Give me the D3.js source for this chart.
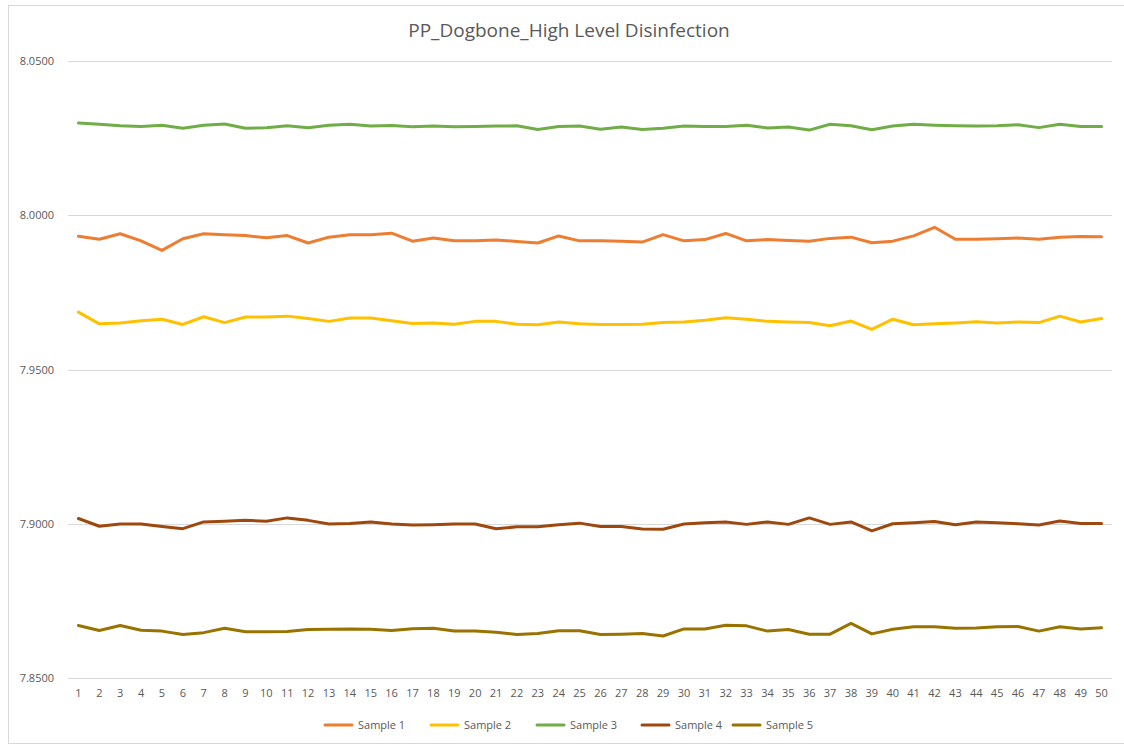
<!DOCTYPE html>
<head>
  <meta charset="utf-8">
  <script src="https://d3js.org/d3.v7.min.js"></script>
  <style>
    body {
      margin: 0;
      background: #fff;
      font-family: "Open Sans", Calibri, sans-serif;
    }
    .grid line {
      stroke: #d9d9d9;
      stroke-width: 1;
    }
    .lbl {
      fill: #595959;
      font-size: 11px;
    }
  </style>
</head>

<body>
  <div id="chart"></div>

  <script>
    var title = "PP_Dogbone_High Level Disinfection";
    var points = d3.range(1, 51);
    var yTicks = [7.85, 7.90, 7.95, 8.00, 8.05];

    var sample1 = [7.9932, 7.9922, 7.9940, 7.9917, 7.9886, 7.9924, 7.9940, 7.9937, 7.9934, 7.9927,
                   7.9934, 7.9910, 7.9929, 7.9937, 7.9937, 7.9942, 7.9916, 7.9926, 7.9917, 7.9917,
                   7.9920, 7.9915, 7.9910, 7.9933, 7.9917, 7.9917, 7.9916, 7.9913, 7.9937, 7.9917,
                   7.9921, 7.9941, 7.9917, 7.9921, 7.9918, 7.9916, 7.9925, 7.9929, 7.9911, 7.9916,
                   7.9933, 7.9961, 7.9922, 7.9922, 7.9924, 7.9926, 7.9922, 7.9929, 7.9931, 7.9930];
    var sample2 = [7.9686, 7.9648, 7.9651, 7.9658, 7.9663, 7.9646, 7.9671, 7.9652, 7.9670, 7.9670,
                   7.9673, 7.9665, 7.9656, 7.9667, 7.9667, 7.9658, 7.9649, 7.9651, 7.9647, 7.9656,
                   7.9656, 7.9647, 7.9645, 7.9654, 7.9648, 7.9646, 7.9646, 7.9647, 7.9652, 7.9654,
                   7.9660, 7.9668, 7.9663, 7.9656, 7.9654, 7.9652, 7.9642, 7.9657, 7.9630, 7.9663,
                   7.9645, 7.9648, 7.9651, 7.9655, 7.9651, 7.9654, 7.9652, 7.9673, 7.9654, 7.9665];
    var sample3 = [8.0299, 8.0295, 8.0290, 8.0288, 8.0292, 8.0282, 8.0292, 8.0296, 8.0282, 8.0284,
                   8.0290, 8.0284, 8.0292, 8.0295, 8.0289, 8.0291, 8.0287, 8.0289, 8.0287, 8.0288,
                   8.0289, 8.0290, 8.0278, 8.0288, 8.0289, 8.0279, 8.0286, 8.0278, 8.0282, 8.0289,
                   8.0288, 8.0288, 8.0292, 8.0283, 8.0286, 8.0276, 8.0295, 8.0290, 8.0277, 8.0289,
                   8.0295, 8.0292, 8.0290, 8.0289, 8.0290, 8.0293, 8.0284, 8.0295, 8.0288, 8.0288];
    var sample4 = [7.9017, 7.8992, 7.8999, 7.8999, 7.8991, 7.8984, 7.9006, 7.9008, 7.9011, 7.9008,
                   7.9019, 7.9011, 7.8999, 7.9001, 7.9006, 7.8999, 7.8996, 7.8997, 7.8999, 7.8999,
                   7.8984, 7.8990, 7.8990, 7.8997, 7.9002, 7.8991, 7.8991, 7.8983, 7.8982, 7.8999,
                   7.9003, 7.9006, 7.8998, 7.9006, 7.8998, 7.9019, 7.8998, 7.9006, 7.8977, 7.9000,
                   7.9003, 7.9007, 7.8997, 7.9006, 7.9003, 7.9000, 7.8996, 7.9009, 7.9001, 7.9001];
    var sample5 = [7.8670, 7.8654, 7.8670, 7.8655, 7.8652, 7.8641, 7.8647, 7.8661, 7.8650, 7.8650,
                   7.8651, 7.8657, 7.8658, 7.8659, 7.8658, 7.8654, 7.8660, 7.8661, 7.8652, 7.8652,
                   7.8648, 7.8641, 7.8644, 7.8653, 7.8653, 7.8641, 7.8642, 7.8644, 7.8636, 7.8659,
                   7.8659, 7.8671, 7.8669, 7.8652, 7.8657, 7.8642, 7.8642, 7.8677, 7.8643, 7.8658,
                   7.8666, 7.8666, 7.8661, 7.8662, 7.8666, 7.8667, 7.8652, 7.8666, 7.8659, 7.8663];

    var seriesNames = ["Sample 1", "Sample 2", "Sample 3", "Sample 4", "Sample 5"];
    var seriesColors = ["#ed7d31", "#ffc000", "#70ad47", "#9e480e", "#997300"];
    var series = [sample1, sample2, sample3, sample4, sample5];

    var width = 1124, height = 747;

    var svg = d3.select("#chart").append("svg")
      .attr("width", width)
      .attr("height", height);

    // chart frame
    svg.append("rect")
      .attr("x", 8.5).attr("y", 5.5)
      .attr("width", width - 8).attr("height", height - 9)
      .attr("fill", "#fff")
      .attr("stroke", "#d9d9d9");

    svg.append("text")
      .attr("x", 569).attr("y", 37)
      .attr("text-anchor", "middle")
      .attr("fill", "#595959")
      .style("font-size", "19px")
      .text(title);

    var x = d3.scaleBand()
      .domain(points)
      .range([68, 1112]);

    var y = d3.scaleLinear()
      .domain([7.85, 8.05])
      .range([678, 61]);

    var grid = svg.append("g").attr("class", "grid");
    grid.selectAll("line")
        .data(yTicks)
      .enter().append("line")
        .attr("x1", 68).attr("x2", 1112)
        .attr("y1", function(d) { return Math.round(y(d)) + 0.5; })
        .attr("y2", function(d) { return Math.round(y(d)) + 0.5; });

    svg.append("g").selectAll("text")
        .data(yTicks)
      .enter().append("text")
        .attr("class", "lbl")
        .attr("x", 54)
        .attr("y", function(d) { return y(d) + 4; })
        .attr("text-anchor", "end")
        .text(function(d) { return d3.format(".4f")(d); });

    svg.append("g").selectAll("text")
        .data(points)
      .enter().append("text")
        .attr("class", "lbl")
        .attr("x", function(d) { return x(d) + x.bandwidth() / 2; })
        .attr("y", 697)
        .attr("text-anchor", "middle")
        .text(function(d) { return d; });

    var line = d3.line()
      .x(function(d, i) { return x(points[i]) + x.bandwidth() / 2; })
      .y(function(d) { return y(d); });

    svg.append("g").selectAll("path")
        .data(series)
      .enter().append("path")
        .attr("d", line)
        .attr("fill", "none")
        .attr("stroke", function(d, i) { return seriesColors[i]; })
        .attr("stroke-width", 3)
        .attr("stroke-linejoin", "round")
        .attr("stroke-linecap", "round");

    // legend
    var legendX = [325, 431, 537, 642, 733];
    var legend = svg.append("g").selectAll("g")
        .data(seriesNames)
      .enter().append("g")
        .attr("transform", function(d, i) { return "translate(" + legendX[i] + ",725)"; });

    legend.append("line")
      .attr("x1", 0).attr("x2", 27)
      .attr("stroke", function(d, i) { return seriesColors[i]; })
      .attr("stroke-width", 3)
      .attr("stroke-linecap", "round");

    legend.append("text")
      .attr("class", "lbl")
      .attr("x", 33).attr("y", 4)
      .text(function(d) { return d; });
  </script>
</body>
